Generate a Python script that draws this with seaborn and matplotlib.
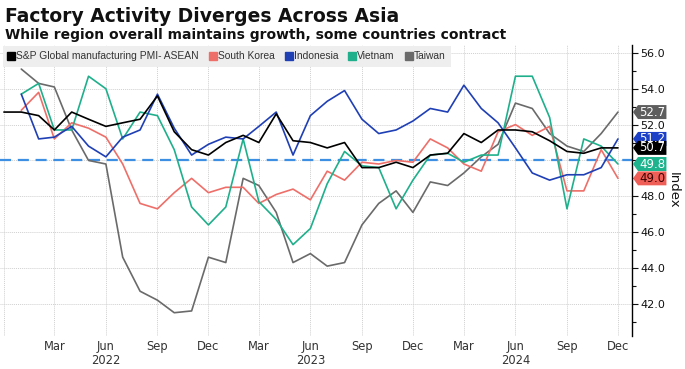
import numpy as np
import pandas as pd
import matplotlib
matplotlib.use("Agg")
import matplotlib.pyplot as plt
import seaborn as sns
from matplotlib.lines import Line2D
from matplotlib.patches import Polygon
from matplotlib.transforms import blended_transform_factory

# monthly PMI readings, Dec 2021 - Dec 2024
months = pd.date_range("2021-12-01", "2024-12-01", freq="MS")
nan = np.nan

asean = [52.7, 52.7, 52.5, 51.7, 52.7, 52.3, 51.9, 52.1, 52.3, 53.6, 51.6, 50.6, 50.3,
         51.0, 51.4, 51.0, 52.6, 51.1, 51.0, 50.7, 51.0, 49.6, 49.6, 49.9, 49.6,
         50.3, 50.4, 51.5, 51.0, 51.7, 51.7, 51.6, 51.1, 50.5, 50.4, 50.7, 50.7]
korea = [nan, 52.8, 53.8, 51.2, 52.1, 51.8, 51.3, 49.8, 47.6, 47.3, 48.2, 49.0, 48.2,
         48.5, 48.5, 47.6, 48.1, 48.4, 47.8, 49.4, 48.9, 49.9, 49.8, 50.0, 49.9,
         51.2, 50.7, 49.8, 49.4, 51.6, 52.0, 51.4, 51.9, 48.3, 48.3, 50.6, 49.0]
indonesia = [nan, 53.7, 51.2, 51.3, 51.9, 50.8, 50.2, 51.3, 51.7, 53.7, 51.8, 50.3, 50.9,
             51.3, 51.2, 51.9, 52.7, 50.3, 52.5, 53.3, 53.9, 52.3, 51.5, 51.7, 52.2,
             52.9, 52.7, 54.2, 52.9, 52.1, 50.7, 49.3, 48.9, 49.2, 49.2, 49.6, 51.2]
vietnam = [nan, 53.7, 54.3, 51.7, 51.7, 54.7, 54.0, 51.2, 52.7, 52.5, 50.6, 47.4, 46.4,
           47.4, 51.2, 47.7, 46.7, 45.3, 46.2, 48.7, 50.5, 49.7, 49.6, 47.3, 48.9,
           50.3, 50.4, 49.9, 50.3, 50.3, 54.7, 54.7, 52.4, 47.3, 51.2, 50.8, 49.8]
taiwan = [nan, 55.1, 54.3, 54.1, 51.7, 50.0, 49.8, 44.6, 42.7, 42.2, 41.5, 41.6, 44.6,
          44.3, 49.0, 48.6, 47.1, 44.3, 44.8, 44.1, 44.3, 46.4, 47.6, 48.3, 47.1,
          48.8, 48.6, 49.3, 50.2, 50.9, 53.2, 52.9, 51.5, 50.8, 50.5, 51.5, 52.7]

names = ["S&P Global manufacturing PMI- ASEAN", "South Korea", "Indonesia", "Vietnam", "Taiwan"]
line_colors = ["#000000", "#ee6f69", "#1f3fb5", "#1fb08b", "#6a6a6a"]
tag_colors = ["#000000", "#ef5f58", "#1b3fc6", "#1db38d", "#5e5e5e"]
tag_text = ["white", "#3a0000", "white", "white", "white"]
threshold = 50.0

tick_dates = pd.date_range("2021-12-01", "2024-12-01", freq="3MS")
tick_labels = []
for d in tick_dates:
    if d.year == 2021:
        tick_labels.append("")
    elif d.month == 6:
        tick_labels.append(d.strftime("%b") + "\n" + str(d.year))
    else:
        tick_labels.append(d.strftime("%b"))

wide = pd.DataFrame({"date": months})
for n, v in zip(names, [asean, korea, indonesia, vietnam, taiwan]):
    wide[n] = v
df = wide.melt(id_vars="date", var_name="series", value_name="value").dropna()

sns.set_style("white")
plt.rcParams["font.family"] = ["DejaVu Sans"]

fig = plt.figure(figsize=(6.85, 3.69), dpi=100)
ax = fig.add_axes([0.0, 0.0894, 0.9226, 0.789])

draw_order = [names[4], names[1], names[3], names[2], names[0]]
pal = dict(zip(names, line_colors))
sns.lineplot(data=df, x="date", y="value", hue="series", hue_order=draw_order,
             palette=pal, linewidth=1.2, ax=ax, legend=False)

ax.axhline(threshold, color="#3d8fe3", linestyle=(0, (5, 3)), linewidth=1.6, zorder=1)

ax.set_xlim(pd.Timestamp("2021-11-24"), pd.Timestamp("2024-12-26"))
ax.set_ylim(40.2, 56.45)
ax.set_xticks(tick_dates)
ax.set_xticklabels(tick_labels, linespacing=1.05)
ax.tick_params(axis="x", length=0, pad=3, labelsize=8.3, colors="#333333")

ax.yaxis.tick_right()
yticks = np.arange(42, 57, 2)
ax.set_yticks(yticks)
ax.set_yticks(np.arange(41, 57, 2), minor=True)
# the 50.0 label sits under the value tags
ax.set_yticklabels(["" if v == threshold else f"{v:.1f}" for v in yticks])
ax.tick_params(axis="y", which="major", direction="out", length=4, width=0.8,
               pad=2, labelsize=8, colors="#111111")
ax.tick_params(axis="y", which="minor", direction="out", length=3, width=0.8, colors="#111111")

ax.grid(True, color="#d0d0d0", linestyle=(0, (1, 1)), linewidth=0.7)
for s in ["left", "top", "bottom"]:
    ax.spines[s].set_visible(False)
ax.spines["right"].set_color("black")
ax.spines["right"].set_linewidth(1.0)
ax.set_xlabel("")
ax.set_ylabel("")

# value tags on the right axis
blend = blended_transform_factory(ax.transAxes, ax.transData)
half = 0.39
for i in [4, 2, 0, 3, 1]:
    last = [asean, korea, indonesia, vietnam, taiwan][i][-1]
    poly = Polygon([[1.0016, last], [1.0095, last + half], [1.0545, last + half],
                    [1.0545, last - half], [1.0095, last - half]],
                   closed=True, transform=blend, facecolor=tag_colors[i],
                   edgecolor="none", clip_on=False, zorder=10)
    ax.add_patch(poly)
    ax.text(1.032, last, f"{last:.1f}", transform=blend, ha="center", va="center",
            fontsize=8.5, color=tag_text[i], zorder=11, clip_on=False)

fig.text(673 / 685, 1 - 190 / 369, "Index", rotation=270, ha="center", va="center",
         fontsize=9.5, color="#111111")

handles = [Line2D([], [], marker="s", linestyle="none", color=c, markersize=5.2)
           for c in line_colors]
leg = ax.legend(handles, names, ncol=5, loc="upper left", bbox_to_anchor=(0.004, 0.995),
                frameon=True, fancybox=False, facecolor="#eeeeee", edgecolor="none",
                framealpha=1, handlelength=0.7, handletextpad=0.15, columnspacing=1.0,
                borderpad=0.5, borderaxespad=0,
                prop={"family": ["Liberation Sans", "DejaVu Sans"], "size": 7.4})
for t in leg.get_texts():
    t.set_color("#333333")

fig.text(0.007, 1 - 16 / 369, "Factory Activity Diverges Across Asia", fontsize=13.5,
         fontweight="bold", color="#111111", va="center", ha="left")
fig.text(0.007, 1 - 35 / 369, "While region overall maintains growth, some countries contract",
         fontsize=10, fontweight="bold", color="#111111", va="center", ha="left")

fig.savefig("out.png", dpi=100)
